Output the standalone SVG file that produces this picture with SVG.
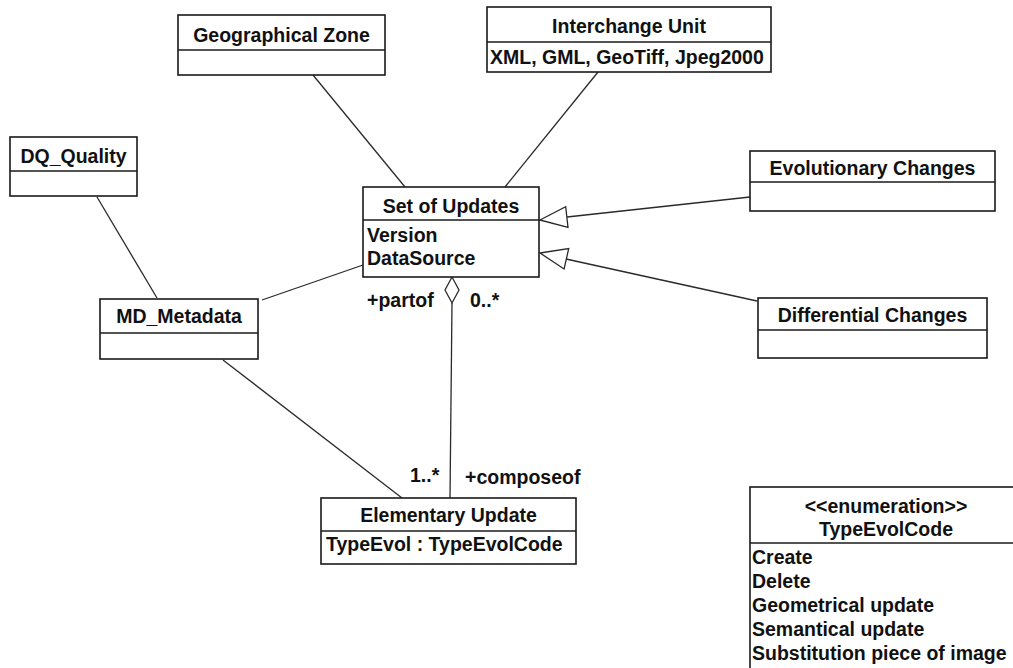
<svg xmlns="http://www.w3.org/2000/svg" width="1013" height="668" viewBox="0 0 1013 668">
  <style>
    .box { fill: #ffffff; stroke: #1a1a1a; stroke-width: 1.6; }
    .div { stroke: #1a1a1a; stroke-width: 1.5; fill: none; }
    .t { font-family: "Liberation Sans", Arial, sans-serif; font-weight: bold; font-size: 19.5px; fill: #111111; }
    .c { text-anchor: middle; }
    .ln { stroke: #2a2a2a; stroke-width: 1.3; fill: none; }
    .head { fill: #ffffff; stroke: #2a2a2a; stroke-width: 1.3; }
  </style>
  <rect width="1013" height="668" fill="#ffffff"/>

  <!-- associations, aggregation and generalizations -->
  <g id="connectors">
    <line class="ln" x1="313" y1="75" x2="405" y2="187"/>
    <line class="ln" x1="598" y1="72" x2="505" y2="187"/>
    <line class="ln" x1="97" y1="197" x2="157" y2="298"/>
    <line class="ln" x1="262" y1="300" x2="363" y2="265"/>
    <line class="ln" x1="223" y1="360" x2="402" y2="498"/>
    <!-- aggregation: Set of Updates <>— Elementary Update -->
    <line class="ln" x1="452" y1="303" x2="450" y2="498"/>
    <polygon class="head" points="452,277 445,290 452,303 459,290"/>
    <!-- generalizations -->
    <line class="ln" x1="567" y1="217" x2="750" y2="197"/>
    <polygon class="head" points="540,220 568,227.5 565.7,206.7"/>
    <line class="ln" x1="566" y1="259" x2="757" y2="301"/>
    <polygon class="head" points="540,253 564.1,269 568.7,248.6"/>
    <text class="t" x="367" y="307">+partof</text>
    <text class="t" x="470" y="307">0..*</text>
    <text class="t" x="410" y="482">1..*</text>
    <text class="t" x="465" y="484">+composeof</text>
  </g>

  <g id="geographical-zone">
    <rect class="box" x="178" y="15" width="207" height="60"/>
    <line class="div" x1="178" y1="50" x2="385" y2="50"/>
    <text class="t c" x="281.5" y="42">Geographical Zone</text>
  </g>

  <g id="interchange-unit">
    <rect class="box" x="487" y="7" width="284" height="65"/>
    <line class="div" x1="487" y1="42" x2="771" y2="42"/>
    <text class="t c" x="629" y="33">Interchange Unit</text>
    <text class="t" x="490" y="64">XML, GML, GeoTiff, Jpeg2000</text>
  </g>

  <g id="dq-quality">
    <rect class="box" x="10" y="137" width="127" height="59"/>
    <line class="div" x1="10" y1="171" x2="137" y2="171"/>
    <text class="t c" x="73.5" y="163">DQ_Quality</text>
  </g>

  <g id="md-metadata">
    <rect class="box" x="100" y="299" width="158" height="60"/>
    <line class="div" x1="100" y1="333" x2="258" y2="333"/>
    <text class="t c" x="179" y="323">MD_Metadata</text>
  </g>

  <g id="set-of-updates">
    <rect class="box" x="363" y="187" width="176" height="90"/>
    <line class="div" x1="363" y1="220" x2="539" y2="220"/>
    <text class="t c" x="451" y="213">Set of Updates</text>
    <text class="t" x="367" y="242">Version</text>
    <text class="t" x="367" y="265">DataSource</text>
  </g>

  <g id="evolutionary-changes">
    <rect class="box" x="750" y="151" width="245" height="60"/>
    <line class="div" x1="750" y1="182" x2="995" y2="182"/>
    <text class="t c" x="872.5" y="175">Evolutionary Changes</text>
  </g>

  <g id="differential-changes">
    <rect class="box" x="758" y="298" width="229" height="60"/>
    <line class="div" x1="758" y1="330" x2="987" y2="330"/>
    <text class="t c" x="872.5" y="322">Differential Changes</text>
  </g>

  <g id="elementary-update">
    <rect class="box" x="321" y="498" width="255" height="66"/>
    <line class="div" x1="321" y1="531" x2="576" y2="531"/>
    <text class="t c" x="448.5" y="522">Elementary Update</text>
    <text class="t" x="326" y="551">TypeEvol : TypeEvolCode</text>
  </g>

  <g id="type-evol-code">
    <rect class="box" x="750" y="487" width="272" height="200"/>
    <line class="div" x1="750" y1="543" x2="1022" y2="543"/>
    <text class="t c" x="886" y="513">&lt;&lt;enumeration&gt;&gt;</text>
    <text class="t c" x="886" y="536">TypeEvolCode</text>
    <text class="t" x="752" y="564">Create</text>
    <text class="t" x="752" y="588">Delete</text>
    <text class="t" x="752" y="612">Geometrical update</text>
    <text class="t" x="752" y="636">Semantical update</text>
    <text class="t" x="752" y="660">Substitution piece of image</text>
  </g>
</svg>
